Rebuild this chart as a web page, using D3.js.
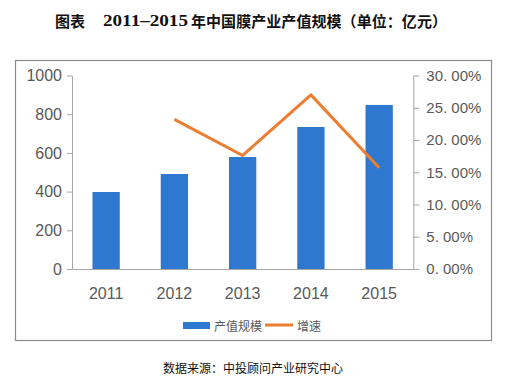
<!DOCTYPE html>
<html><head><meta charset="utf-8">
<script src="https://cdn.jsdelivr.net/npm/d3@7"></script>
<style>body{margin:0;background:#fff}svg{display:block}</style>
</head><body>
<svg id="c" width="508" height="380"></svg>
<script>
const years = ["2011","2012","2013","2014","2015"];
const output = [398, 491, 579, 734, 848];
const growth = [null, 0.232, 0.176, 0.270, 0.157];
const leftTicks = [0,200,400,600,800,1000];
const rightTicks = [0,0.05,0.10,0.15,0.20,0.25,0.30];
const seriesNames = ["产值规模","增速"];

const svg = d3.select("#c");
const grey = "#595959", axisCol = "#A6A6A6";
const blue = "#2F78CF", orange = "#ED7D31";

// title
const t = svg.append("text").attr("y",20).attr("dominant-baseline","central")
  .attr("font-family","'Liberation Serif','Noto Sans CJK SC',serif").attr("font-weight","bold")
  .attr("font-size",15).attr("fill","#111");
t.append("tspan").attr("x",55).attr("font-family","'Noto Sans CJK SC'").text("图表");
t.append("tspan").attr("x",103).attr("font-size",16.5).attr("textLength",85).attr("lengthAdjust","spacingAndGlyphs").text("2011–2015");
t.append("tspan").attr("x",191).attr("font-family","'Noto Sans CJK SC'").attr("textLength",256).attr("lengthAdjust","spacing").text("年中国膜产业产值规模（单位：亿元）");

// frame
svg.append("rect").attr("x",15.5).attr("y",60.5).attr("width",476).attr("height",280)
  .attr("fill","none").attr("stroke","#8C8C8C").attr("stroke-width",1.2);

const x = d3.scaleBand().domain(years).range([72,413.3]).paddingInner(0.6).paddingOuter(0.3);
const yL = d3.scaleLinear().domain([0,1000]).range([269,75.5]);
const yR = d3.scaleLinear().domain([0,0.30]).range([269,75.5]);

// bars
svg.append("g").selectAll("rect").data(output).join("rect")
  .attr("x",(d,i)=>x(years[i])).attr("width",x.bandwidth())
  .attr("y",d=>yL(d)).attr("height",d=>yL(0)-yL(d)).attr("fill",blue);

function styleAxis(g){
  g.select(".domain").attr("stroke",axisCol);
  g.selectAll(".tick line").attr("stroke",axisCol);
  g.selectAll(".tick text").attr("fill",grey).attr("font-family","'Liberation Sans',Arial,sans-serif");
}
// left axis
svg.append("g").attr("transform","translate(72,0)")
  .call(d3.axisLeft(yL).tickValues(leftTicks).tickSize(5).tickSizeOuter(0).tickPadding(5).tickFormat(d3.format("d")))
  .call(styleAxis).call(g=>g.selectAll(".tick text").attr("font-size",16));
// right axis
svg.append("g").attr("transform","translate(413.3,0)")
  .call(d3.axisRight(yR).tickValues(rightTicks).tickSize(6).tickSizeOuter(0).tickPadding(7)
    .tickFormat(d=>d3.format(".2f")(d*100).replace(".",". ")+"%"))
  .call(styleAxis).call(g=>g.selectAll(".tick text").attr("font-size",15));
// x axis
svg.append("g").attr("transform","translate(0,269)")
  .call(d3.axisBottom(x).tickSize(0).tickPadding(0))
  .call(styleAxis)
  .call(g=>g.selectAll(".tick text").attr("font-size",16).attr("dy",0).attr("y",24).attr("dominant-baseline","central"));

// line
const line = d3.line().defined(d=>d!=null).x((d,i)=>x(years[i])+x.bandwidth()/2).y(d=>yR(d));
svg.append("path").datum(growth).attr("d",line).attr("fill","none")
  .attr("stroke",orange).attr("stroke-width",3).attr("stroke-linejoin","round");

// legend
const lg = svg.append("g").attr("font-family","'Noto Sans CJK SC',sans-serif").attr("font-size",12).attr("fill",grey);
lg.append("rect").attr("x",183).attr("y",322).attr("width",27).attr("height",7).attr("fill",blue);
lg.append("text").attr("x",214).attr("y",325.5).attr("dominant-baseline","central").text(seriesNames[0]);
lg.append("line").attr("x1",265).attr("x2",293).attr("y1",325).attr("y2",325).attr("stroke",orange).attr("stroke-width",3);
lg.append("text").attr("x",297).attr("y",325.5).attr("dominant-baseline","central").text(seriesNames[1]);

// source
svg.append("text").attr("x",163).attr("y",367).attr("dominant-baseline","central")
  .attr("font-family","'Noto Sans CJK SC',sans-serif").attr("font-size",12).attr("fill","#111")
  .text("数据来源：中投顾问产业研究中心");
</script>
</body></html>
